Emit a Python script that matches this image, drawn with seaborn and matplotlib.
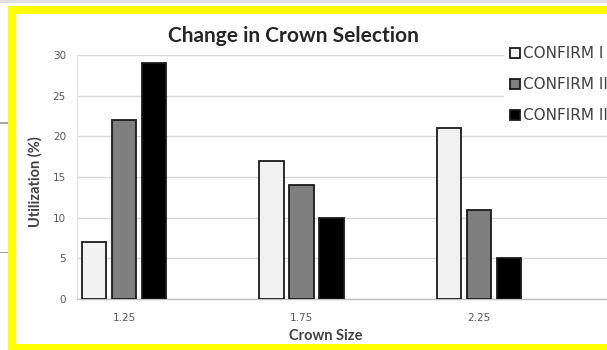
import matplotlib
matplotlib.use("Agg")
import matplotlib.pyplot as plt
from matplotlib.patches import Rectangle
import pandas as pd
import seaborn as sns

# Chart data
crown_sizes = ["1.25", "1.75", "2.25"]
series_names = ["CONFIRM I", "CONFIRM II", "CONFIRM III"]
confirm_1 = [7, 17, 21]
confirm_2 = [22, 14, 11]
confirm_3 = [29, 10, 5]
y_ticks = [0, 5, 10, 15, 20, 25, 30]

bar_colors = ["#f2f2f2", "#7f7f7f", "#000000"]

records = []
for name, values in zip(series_names, [confirm_1, confirm_2, confirm_3]):
    for size, v in zip(crown_sizes, values):
        records.append({"Crown Size": size, "Series": name, "Utilization": v})
df = pd.DataFrame(records)

sns.set_theme(style="white")
plt.rcParams["font.family"] = ["Lato", "DejaVu Sans"]

W, H = 607, 350
fig = plt.figure(figsize=(W / 100, H / 100), dpi=100)
fig.patch.set_facecolor("white")


def fx(px):
    return px / W


def fy(py):
    return 1 - py / H


# plot area in pixel terms: left 77, right 607, top 55, bottom 299
ax = fig.add_axes([fx(77), fy(299), fx(607) - fx(77), (299 - 55) / H])

sns.barplot(
    data=df, x="Crown Size", y="Utilization", hue="Series",
    order=crown_sizes, hue_order=series_names, palette=bar_colors,
    width=0.507, gap=0.18, edgecolor="#1a1a1a", linewidth=1.3,
    ax=ax, zorder=3,
)

ax.set_xlim(-0.265, 2.721)
ax.set_ylim(0, 30)
ax.set_yticks(y_ticks)
ax.yaxis.grid(True, color="#d9d9d9", linewidth=1.0, zorder=0)
ax.set_axisbelow(True)
for s in ["top", "right"]:
    ax.spines[s].set_visible(False)
ax.spines["left"].set_color("#e0e0e0")
ax.spines["left"].set_linewidth(0.8)
ax.spines["bottom"].set_color("#bfbfbf")
ax.spines["bottom"].set_linewidth(1.0)
ax.tick_params(axis="both", length=0, labelsize=7.5, labelcolor="#595959")
for lab in ax.get_xticklabels() + ax.get_yticklabels():
    lab.set_fontfamily("DejaVu Sans")
ax.tick_params(axis="y", pad=8)
ax.tick_params(axis="x", pad=10)
ax.set_xlabel("")
ax.set_ylabel("")

handles, labels = ax.get_legend_handles_labels()
ax.get_legend().remove()
fig.legend(
    handles, labels, loc="upper left", bbox_to_anchor=(fx(504), fy(40)),
    frameon=True, facecolor="white", edgecolor="white", framealpha=1,
    fancybox=False, prop={"family": "DejaVu Sans", "size": 11},
    labelcolor="#404040",
    handlelength=0.62, handleheight=0.62, handletextpad=0.2,
    labelspacing=1.05, borderpad=0.4, borderaxespad=0,
)

fig.text(fx(293), fy(36), "Change in Crown Selection", ha="center", va="center",
         fontsize=15, fontweight="bold", color="#262626")
fig.text(fx(326), fy(336), "Crown Size", ha="center", va="center",
         fontsize=10.5, fontweight="bold", color="#404040")
fig.text(fx(35), fy(182), "Utilization (%)", ha="center", va="center",
         rotation=90, fontsize=10.5, fontweight="bold", color="#404040")

# surrounding frame
yellow = "#ffff00"
frame = [
    (0, 0, W, 2.5, "#e0e0e0"),
    (8, 6, W - 8, 8, yellow),
    (8, 6, 8, H - 6, yellow),
    (8, 344, W - 8, 6, yellow),
    (0, 122.5, 8, 1.5, "#a6a6a6"),
    (0, 251.5, 8, 1.5, "#a6a6a6"),
]
for x0, y0, w, h, c in frame:
    fig.add_artist(Rectangle((fx(x0), fy(y0 + h)), w / W, h / H,
                             transform=fig.transFigure, facecolor=c,
                             edgecolor="none", zorder=10))

fig.savefig("out.png", dpi=100)
